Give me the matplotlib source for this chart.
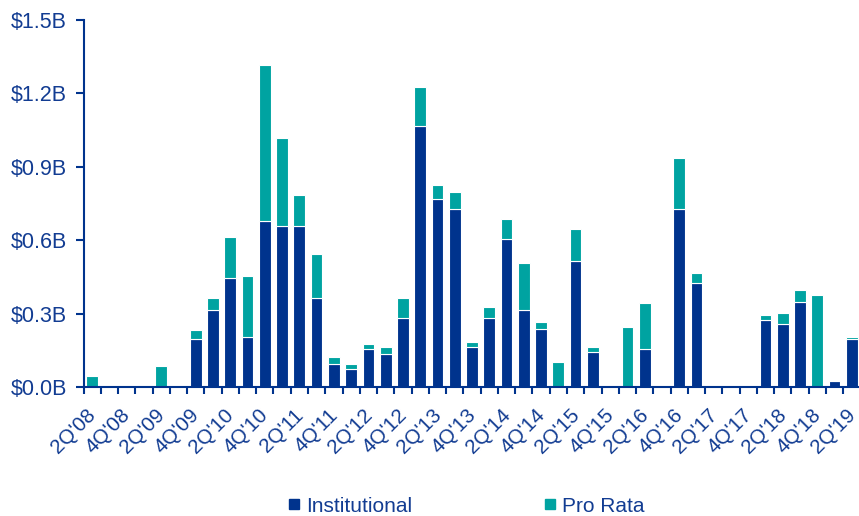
import numpy as np
import matplotlib.pyplot as plt
import matplotlib.transforms as mtransforms
from matplotlib.lines import Line2D

plt.rcParams['font.family'] = ['Liberation Sans', 'DejaVu Sans']

quarters = ["2Q'08", "3Q'08", "4Q'08", "1Q'09", "2Q'09", "3Q'09", "4Q'09",
            "1Q'10", "2Q'10", "3Q'10", "4Q'10", "1Q'11", "2Q'11", "3Q'11", "4Q'11",
            "1Q'12", "2Q'12", "3Q'12", "4Q'12", "1Q'13", "2Q'13", "3Q'13", "4Q'13",
            "1Q'14", "2Q'14", "3Q'14", "4Q'14", "1Q'15", "2Q'15", "3Q'15", "4Q'15",
            "1Q'16", "2Q'16", "3Q'16", "4Q'16", "1Q'17", "2Q'17", "3Q'17", "4Q'17",
            "1Q'18", "2Q'18", "3Q'18", "4Q'18", "1Q'19", "2Q'19"]

# $B
institutional = [0, 0, 0, 0, 0, 0, 0.195,
                 0.315, 0.444, 0.206, 0.678, 0.657, 0.657, 0.365, 0.093,
                 0.074, 0.154, 0.134, 0.283, 1.067, 0.767, 0.726, 0.165,
                 0.283, 0.605, 0.315, 0.236, 0, 0.515, 0.144, 0,
                 0, 0.154, 0, 0.726, 0.424, 0, 0, 0,
                 0.274, 0.256, 0.346, 0, 0.025, 0.195]
pro_rata = [0.045, 0, 0, 0, 0.085, 0, 0.038,
            0.049, 0.170, 0.248, 0.638, 0.359, 0.128, 0.179, 0.031,
            0.020, 0.020, 0.031, 0.082, 0.159, 0.059, 0.070, 0.019,
            0.043, 0.082, 0.191, 0.030, 0.104, 0.131, 0.021, 0,
            0.244, 0.191, 0, 0.211, 0.043, 0, 0, 0,
            0.022, 0.048, 0.049, 0.376, 0, 0.011]

navy = '#00338D'
teal = '#00A3A1'
txt = '#123C92'

fig = plt.figure(figsize=(8.59, 5.16), dpi=100)
ax = fig.add_axes([83.5/859, 1-387/516, 777/859, 367/516])

x = np.arange(len(quarters))
inst = np.array(institutional)
pr = np.array(pro_rata)
ax.bar(x, inst, width=0.68, color=navy, edgecolor='white', linewidth=0.8)
ax.bar(x, pr, bottom=inst, width=0.68, color=teal, edgecolor='white', linewidth=0.8)

ax.set_xlim(-0.5, len(quarters)-0.5)
ax.set_ylim(0, 1.5)

yt = np.arange(0, 1.51, 0.3)
ax.set_yticks(yt)
ax.set_yticklabels(['$%.1fB' % v for v in yt], fontsize=15.5, color=txt)
ax.tick_params(axis='y', length=6, width=1.5, color=navy, pad=6)

ax.set_xticks(x[::2])
ax.set_xticklabels(quarters[::2], rotation=45, ha='right', va='top',
                   rotation_mode='anchor', fontsize=14.8, color=txt)
ax.set_xticks(np.arange(-0.5, len(quarters)), minor=True)
ax.tick_params(axis='x', which='major', length=0, pad=13)
ax.tick_params(axis='x', which='minor', length=5, width=1.5, color=navy)
# nudge the rotated labels a little to the left
shift = mtransforms.ScaledTranslation(-6/100, 0, fig.dpi_scale_trans)
for lab in ax.get_xticklabels():
    lab.set_transform(lab.get_transform() + shift)

for s in ['top', 'right']:
    ax.spines[s].set_visible(False)
for s in ['left', 'bottom']:
    ax.spines[s].set_color(navy)
    ax.spines[s].set_linewidth(1.5)

handles = [Line2D([], [], marker='s', color=navy, linestyle='', markersize=7),
           Line2D([], [], marker='s', color=teal, linestyle='', markersize=7)]
fig.legend(handles, ['Institutional', 'Pro Rata'], loc='center',
           bbox_to_anchor=(466/859, 1-506/516), ncol=2, frameon=False,
           fontsize=15, handlelength=0.6, handletextpad=0.3, columnspacing=6.3,
           labelcolor=txt)

fig.savefig('out.png', dpi=100)
